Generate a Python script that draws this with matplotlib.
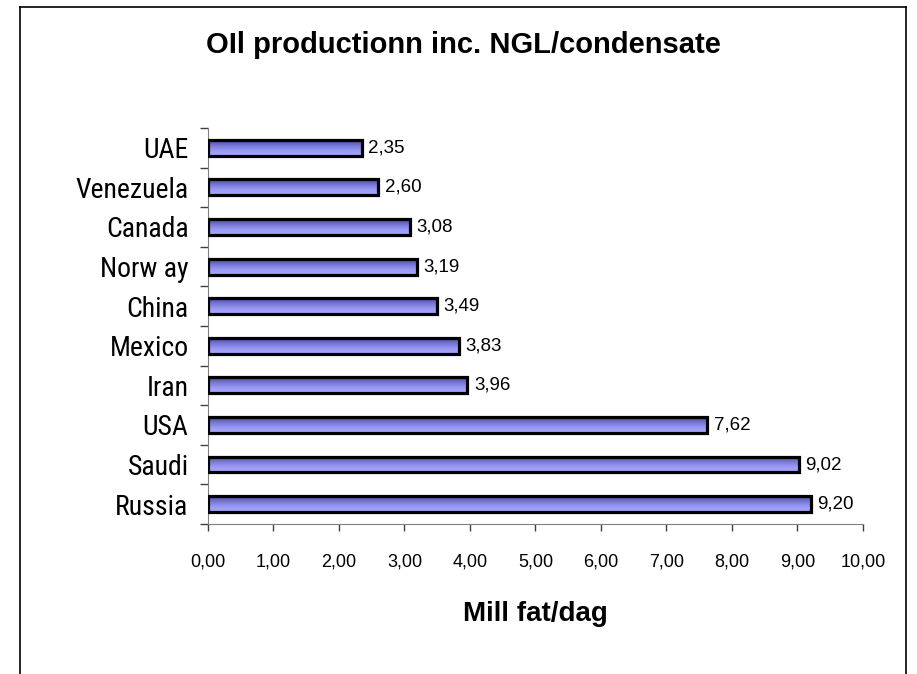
import numpy as np
import matplotlib.pyplot as plt
from matplotlib.lines import Line2D
from matplotlib.colors import LinearSegmentedColormap

countries = ["Russia", "Saudi", "USA", "Iran", "Mexico", "China",
             "Norw ay", "Canada", "Venezuela", "UAE"]
values = [9.20, 9.02, 7.62, 3.96, 3.83, 3.49, 3.19, 3.08, 2.60, 2.35]
xticks = np.arange(0, 11, 1)

NARROW = ["Liberation Sans Narrow", "Roboto Condensed", "Liberation Sans"]
SANS = ["Liberation Sans", "DejaVu Sans"]

fig = plt.figure(figsize=(9.17, 6.74), dpi=100)
ax = fig.add_axes([0.2268, 0.2226, 0.7143, 0.5875])

# ramme rundt figuren (nederste kant utenfor bildet)
for xs, ys in [([0.0218, 0.0218], [0, 0.9896]),
               ([0.0218, 0.988], [0.9896, 0.9896]),
               ([0.988, 0.988], [0, 0.9896])]:
    fig.add_artist(Line2D(xs, ys, transform=fig.transFigure, color="black", lw=1.2))

cmap = LinearSegmentedColormap.from_list("bar", ["#a8a8ff", "#9a9af4", "#7676d6", "#48489c"])
grad = np.linspace(0, 1, 64).reshape(-1, 1)
y = np.arange(len(countries))
bars = ax.barh(y, values, height=0.4, facecolor="none", edgecolor="black",
               linewidth=2.3, zorder=3)
for b in bars:
    x0, y0 = b.get_x(), b.get_y()
    w, hh = b.get_width(), b.get_height()
    im = ax.imshow(grad, cmap=cmap, aspect="auto", extent=[x0, x0 + w, y0, y0 + hh],
                   origin="lower", zorder=2, interpolation="bilinear")
    im.set_clip_path(b)
for yi, v in zip(y, values):
    ax.text(v + 0.1, yi, f"{v:.2f}".replace(".", ","), va="center", ha="left",
            fontsize=13.5, family=SANS)

ax.set_xlim(0, 10)
ax.set_ylim(-0.5, len(countries) - 0.5)
ax.set_xticks(xticks)
ax.set_xticklabels([f"{t:.2f}".replace(".", ",") for t in xticks], fontsize=13,
                   family=SANS)
ax.set_yticks(y)
ax.set_yticklabels(countries, fontsize=20, family=NARROW)
ax.tick_params(axis="y", length=0, pad=14)
ax.set_yticks(np.arange(-0.5, len(countries), 1), minor=True)
ax.tick_params(axis="y", which="minor", length=6, width=1, direction="out")
ax.tick_params(axis="x", length=5, width=1, direction="out", pad=16)
for s in ["top", "right"]:
    ax.spines[s].set_visible(False)
ax.spines["left"].set_color("#808080")
ax.spines["bottom"].set_color("#808080")
ax.tick_params(colors="#404040", which="both")
ax.tick_params(labelcolor="black", which="both")

ax.set_xlabel("Mill fat/dag", fontsize=20, fontweight="bold", family=SANS, labelpad=22)
fig.text(0.505, 0.933, "OIl productionn inc. NGL/condensate", ha="center", va="center",
         fontsize=21, fontweight="bold", family=SANS)

fig.savefig("out.png", dpi=100)
